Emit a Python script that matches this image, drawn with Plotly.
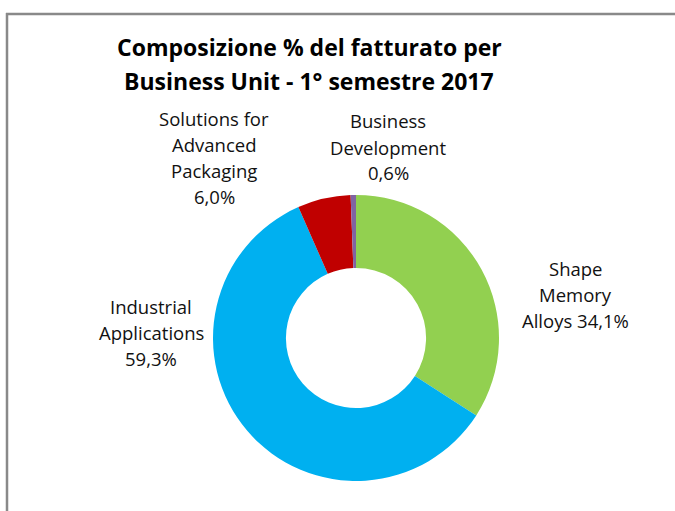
import plotly.graph_objects as go

labels = ["Shape Memory Alloys", "Industrial Applications",
          "Solutions for Advanced Packaging", "Business Development"]
values = [34.1, 59.3, 6.0, 0.6]
colors = ["#92D050", "#00B0F0", "#C00000", "#8064A2"]
label_lines = [["Shape", "Memory", "Alloys 34,1%"],
               ["Industrial", "Applications", "59,3%"],
               ["Solutions for", "Advanced", "Packaging", "6,0%"],
               ["Business", "Development", "0,6%"]]
label_x = [575, 151, 214, 388]
label_y0 = [267, 305, 117, 120]
title_lines = ["Composizione % del fatturato per", "Business Unit - 1° semestre 2017"]

W, H = 675, 511
cx, cy, r = 356, 338, 143
line_gap = 26

fig = go.Figure(go.Pie(
    labels=labels, values=values, sort=False, direction="clockwise",
    rotation=0, hole=0.49, textinfo="none", hoverinfo="label+percent",
    marker=dict(colors=colors, line=dict(width=0)),
    domain=dict(x=[(cx - r) / W, (cx + r) / W],
                y=[(H - cy - r) / H, (H - cy + r) / H]),
    showlegend=False,
))

font = "'Open Sans', Calibri, sans-serif"
annotations = []
for lines, x, y0 in zip(label_lines, label_x, label_y0):
    for i, ln in enumerate(lines):
        y = y0 + i * line_gap + 1
        annotations.append(dict(text=ln, x=x / W, y=1 - y / H, xref="paper", yref="paper",
                                xanchor="center", yanchor="middle", showarrow=False,
                                font=dict(family=font, size=18.5, color="#111111")))
for i, ln in enumerate(title_lines):
    y = 46 + i * 34 + 1
    annotations.append(dict(text="<b>" + ln + "</b>", x=309 / W, y=1 - y / H,
                            xref="paper", yref="paper", xanchor="center", yanchor="middle",
                            showarrow=False,
                            font=dict(family=font, size=23, color="#000000")))

shapes = [
    dict(type="line", xref="paper", yref="paper", x0=6 / W, x1=1.0, y0=1 - 14 / H, y1=1 - 14 / H,
         line=dict(color="#898989", width=2.5)),
    dict(type="line", xref="paper", yref="paper", x0=7 / W, x1=7 / W, y0=1 - 13 / H, y1=0,
         line=dict(color="#898989", width=2.5)),
]

fig.update_layout(width=W, height=H, margin=dict(l=0, r=0, t=0, b=0),
                  paper_bgcolor="white", plot_bgcolor="white",
                  annotations=annotations, shapes=shapes)
fig.write_html("out.html", config={"displayModeBar": False},
               post_script="document.body.style.margin='0';document.body.style.overflow='hidden';")
